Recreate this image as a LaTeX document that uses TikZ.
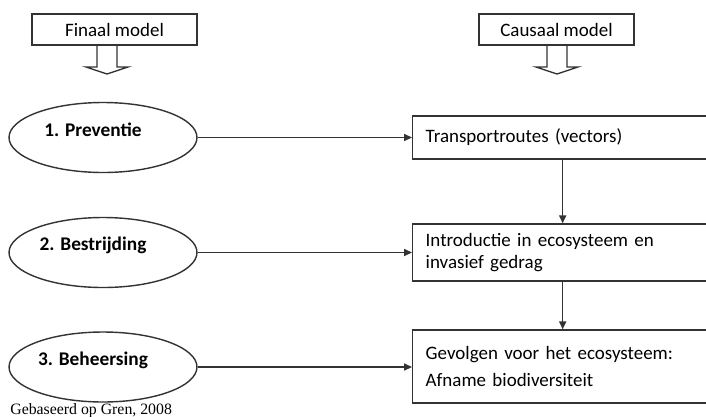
\documentclass[tikz,border=0pt]{standalone}
\usepackage{fontspec}
\setmainfont{Carlito}
\newfontfamily\bronfont{Liberation Serif}
\usepackage{tikz}
\usetikzlibrary{arrows.meta}
\usetikzlibrary{shapes.geometric}

\tikzset{
    lijn/.style={line width=0.8pt, black!80},
    pijl/.style={lijn, -{Triangle[length=4.5pt,width=4pt]}},
    kop/.style={draw=black!80, line width=0.8pt, minimum height=0.62cm, inner sep=0pt},
    fase/.style={ellipse, draw=black!80, line width=0.8pt, minimum width=3.76cm, minimum height=1.4cm, inner sep=0pt},
    fasetekst/.style={font=\bfseries\fontsize{11}{13}\selectfont},
    stap/.style={draw=black!80, line width=0.8pt, anchor=west, minimum width=6cm, inner xsep=0.26cm, text width=5.48cm, align=left}
}

\begin{document}
\begin{tikzpicture}[x=0.02cm, y=-0.02cm, font=\fontsize{10.8}{12.5}\selectfont]
    \useasboundingbox (0,0) rectangle (706,416);

    % Koppen
    \node[kop, minimum width=3.3cm] (finaal) at (114.5,29.5) {Finaal model};
    \node[kop, minimum width=3.1cm] (causaal) at (556.5,29.5) {Causaal model};

    % Holle pijlen onder de koppen
    \foreach \ax in {107,557} {
        \draw[lijn] (\ax-10,45) -- (\ax-10,67) -- (\ax-21,67) -- (\ax,74) -- (\ax+21,67) -- (\ax+10,67) -- (\ax+10,45);
    }

    % Fasen (finaal model)
    \node[fase] (preventie) at (103,137.5) {};
    \node[fasetekst] at ([xshift=-0.2cm,yshift=0.16cm]preventie.center) {1. Preventie};
    \node[fase] (bestrijding) at (103,252.5) {};
    \node[fasetekst] at ([xshift=-0.2cm,yshift=0.15cm]bestrijding.center) {2. Bestrijding};
    \node[fase] (beheersing) at (103,367) {};
    \node[fasetekst] at ([xshift=-0.2cm,yshift=0.14cm]beheersing.center) {3. Beheersing};

    % Stappen (causaal model)
    \node[stap, minimum height=0.86cm] (routes) at (412,137.5) {Transportroutes (vectors)};
    \node[stap, minimum height=1.14cm] (intro) at (412,252.5) {Introductie in ecosysteem en\\invasief gedrag};
    \node[stap, minimum height=1.46cm] (gevolgen) at (412,366.5) {Gevolgen voor het ecosysteem:\\[2.8pt]Afname biodiversiteit};

    % Verbindingen
    \draw[pijl] (preventie.east) -- (preventie.east -| routes.west);
    \draw[pijl] (bestrijding.east) -- (bestrijding.east -| intro.west);
    \draw[pijl] (beheersing.east) -- (beheersing.east -| gevolgen.west);
    \draw[pijl] (routes.south) -- (intro.north);
    \draw[pijl] (intro.south) -- (gevolgen.north);

    % Bron
    \node[anchor=base west, inner sep=0pt, font=\bronfont\fontsize{9}{11}\selectfont] (bron) at (10,414.5) {Gebaseerd op Gren, 2008};
\end{tikzpicture}
\end{document}
